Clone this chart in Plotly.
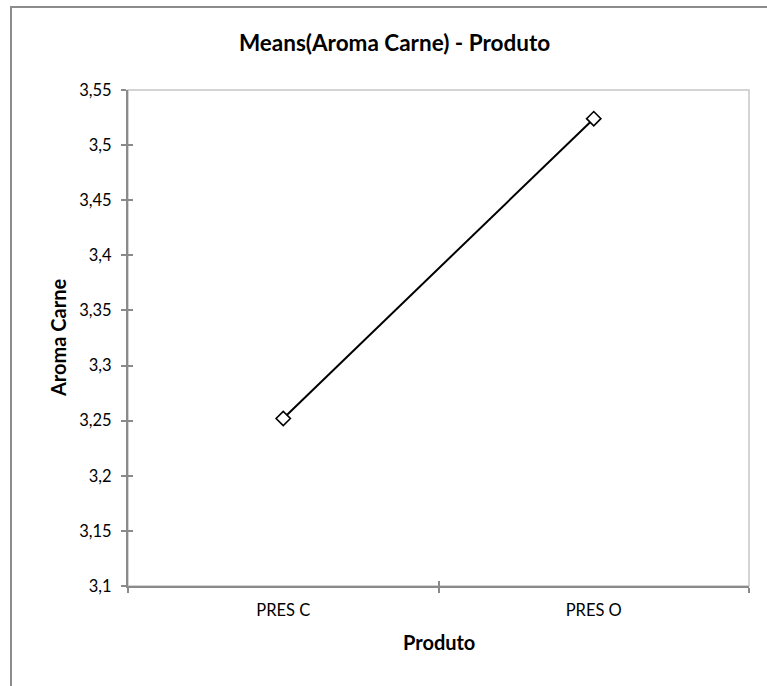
import plotly.graph_objects as go

# Data
categories = ["PRES C", "PRES O"]
means = [3.252, 3.524]
y_tickvals = [3.1, 3.15, 3.2, 3.25, 3.3, 3.35, 3.4, 3.45, 3.5, 3.55]
y_ticktext = ["3,1", "3,15", "3,2", "3,25", "3,3", "3,35", "3,4", "3,45", "3,5", "3,55"]

title_text = "<b>Means(Aroma Carne) - Produto</b>"
x_title = "<b>Produto</b>"
y_title = "<b>Aroma Carne</b>"

FONT = "Lato"
W, H = 767, 686
ML, MR, MT, MB = 128, 18, 90, 100
AXIS_C = "#8a8a8a"
TICK_SIZE = 16.5

fig = go.Figure()
fig.add_trace(go.Scatter(
    x=categories, y=means, mode="lines+markers",
    line=dict(color="black", width=2),
    marker=dict(symbol="diamond", size=11, color="white",
                line=dict(color="black", width=1.6)),
    showlegend=False, cliponaxis=False,
))
# invisible helper trace for the inside-tick overlay axes
fig.add_trace(go.Scatter(x=categories, y=means, xaxis="x2", yaxis="y2",
                         mode="markers", marker=dict(opacity=0),
                         showlegend=False, hoverinfo="skip"))

pw = W - ML - MR
ph = H - MT - MB

fig.update_layout(
    width=W, height=H,
    margin=dict(l=ML, r=MR, t=MT, b=MB),
    paper_bgcolor="white", plot_bgcolor="white",
    font=dict(family=FONT, color="black", size=TICK_SIZE),
    title=dict(text=title_text, x=394.5 / W, xanchor="center",
               y=1 - 43.5 / H, yanchor="middle",
               font=dict(family=FONT, size=22.5, color="black")),
    xaxis=dict(
        type="category", range=[-0.5, 1.5],
        showline=True, linecolor=AXIS_C, linewidth=2,
        showgrid=False, zeroline=False,
        ticks="outside", ticklen=5, tickwidth=1.5, tickcolor=AXIS_C,
        tickson="boundaries", ticklabelstandoff=8,
        tickfont=dict(family=FONT, size=TICK_SIZE, color="black"),
    ),
    yaxis=dict(
        range=[3.1, 3.55], tickvals=y_tickvals, ticktext=y_ticktext,
        showline=True, linecolor=AXIS_C, linewidth=2,
        showgrid=False, zeroline=False,
        ticks="outside", ticklen=5, tickwidth=1.5, tickcolor=AXIS_C,
        ticklabelstandoff=6,
        tickfont=dict(family=FONT, size=TICK_SIZE, color="black"),
    ),
    xaxis2=dict(type="category", range=[-0.5, 1.5], overlaying="x",
                showline=False, showgrid=False, zeroline=False,
                ticks="inside", ticklen=5, tickwidth=1.5, tickcolor=AXIS_C,
                tickson="boundaries", showticklabels=False, side="bottom",
                matches="x"),
    yaxis2=dict(range=[3.1, 3.55], tickvals=y_tickvals, overlaying="y",
                showline=False, showgrid=False, zeroline=False,
                ticks="inside", ticklen=5, tickwidth=1.5, tickcolor=AXIS_C,
                showticklabels=False, side="left", matches="y"),
    annotations=[
        dict(text=x_title, xref="paper", yref="paper", x=0.5,
             y=(H - MB - 642) / ph, xanchor="center", yanchor="middle",
             showarrow=False, font=dict(family=FONT, size=20, color="black")),
        dict(text=y_title, xref="paper", yref="paper", x=(58 - ML) / pw,
             y=0.5, xanchor="center", yanchor="middle", textangle=-90,
             showarrow=False, font=dict(family=FONT, size=20, color="black")),
    ],
    shapes=[
        # plot area frame (light top/right edges)
        dict(type="rect", xref="paper", yref="paper", x0=0, x1=1, y0=0, y1=1,
             line=dict(color="#c6c6c6", width=1.5), layer="below"),
        # outer chart border
        dict(type="rect", xref="paper", yref="paper",
             x0=(11 - ML) / pw, x1=(W + 60 - ML) / pw,
             y0=(H - MB - (H + 60)) / ph, y1=(H - MB - 7) / ph,
             line=dict(color="#8c8c8c", width=2), layer="below"),
    ],
)

fig.write_html("out.html")
